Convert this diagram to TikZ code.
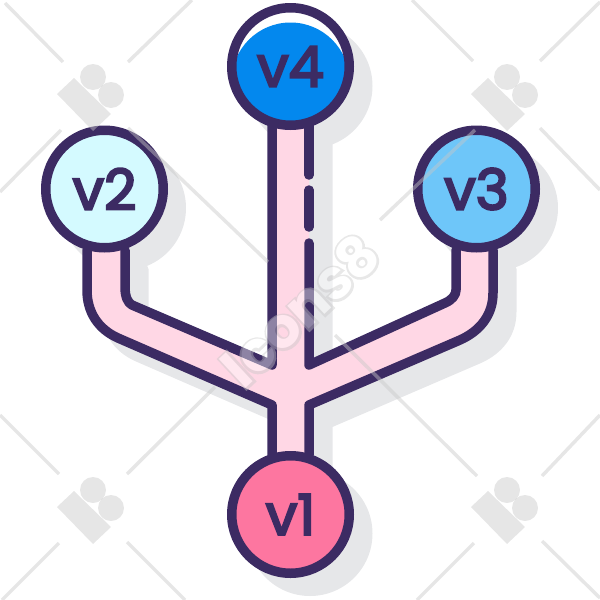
\documentclass[tikz,border=0pt]{standalone}
\usepackage{fontspec}
\setmainfont{Poppins}
\newfontfamily\labelfont[FakeBold=4]{Poppins}
\newfontfamily\markfont[UprightFont=* Bold,FakeBold=8]{Poppins}
\definecolor{ink}{HTML}{3C2B63}
\definecolor{rose}{HTML}{FFD7E5}
\definecolor{ash}{HTML}{E6E7E9}
\definecolor{markgray}{HTML}{C8C8C8}
\newcommand{\pipepath}{(87,250) -- (87,290) .. controls (87,312) and (98,329) .. (118,338) -- (272,405) -- (272,455) -- (309,455) -- (309,405) -- (460,340) .. controls (480,331) and (493,315) .. (493,293) -- (493,250) -- (456,250) -- (456,290) .. controls (456,295) and (452,300) .. (445,303) -- (309,365) -- (309,125) -- (272,125) -- (272,365) -- (132,305) .. controls (128,303) and (125,297) .. (125,287) -- (125,250) -- cycle}
\begin{document}
\begin{tikzpicture}[x=1pt,y=-1pt,
ring/.style={circle,draw=ink,line width=9.5pt,inner sep=0pt,minimum size=117.5pt,text=ink,font=\fontsize{56}{56}\labelfont},
wire/.style={draw=ink,line width=9.5pt,line cap=round,line join=round},
wm/.style={line width=3.5pt,draw=markgray,opacity=.45},
wmblob/.style={fill=markgray,opacity=.45}]
\useasboundingbox (0,0) rectangle (600,600);

\begin{scope}[shift={(19,19)}]
\draw[ash,fill=ash,line width=9pt,line join=round] \pipepath;
\fill[ash] (291,67) circle (62.5);
\fill[ash] (104.5,189) circle (62.5);
\fill[ash] (476.5,189) circle (62.5);
\fill[ash] (291,514.5) circle (62.5);
\end{scope}

\fill[rose] \pipepath;

\coordinate (la) at (87,250);
\coordinate (lb) at (125,250);
\coordinate (ra) at (493,250);
\coordinate (rb) at (456,250);
\coordinate (ma) at (272,125);
\coordinate (mb) at (309,243);
\coordinate (da) at (309,190);
\coordinate (db) at (309,227);
\coordinate (ea) at (309,125);
\coordinate (eb) at (309,175);
\coordinate (ja) at (272,365);
\coordinate (jb) at (309,365);
\coordinate (ka) at (272,405);
\coordinate (kb) at (309,405);
\coordinate (fa) at (272,455);
\coordinate (fb) at (309,455);

\draw[wire] (la) -- (87,290) .. controls (87,312) and (98,329) .. (118,338) -- (ka) -- (fa);
\draw[wire] (ra) -- (493,293) .. controls (493,315) and (480,331) .. (460,340) -- (kb) -- (fb);
\draw[wire] (lb) -- (125,287) .. controls (125,297) and (128,303) .. (132,305) -- (ja) -- (ma);
\draw[wire] (rb) -- (456,290) .. controls (456,295) and (452,300) .. (445,303) -- (jb) -- (mb);
\draw[wire] (da) -- (db);
\draw[wire] (ea) -- (eb);

\node[ring,fill=white,path picture={\fill[fill={rgb,255:red,3;green,136;blue,238}] (path picture bounding box.center) ++(0,15) circle (59);}] at (290.5,66.5) (v4) {v4};
\node[ring,fill={rgb,255:red,212;green,250;blue,255}] at (104.5,189) (v2) {v2};
\node[ring,fill={rgb,255:red,110;green,198;blue,249}] at (476.5,189) (v3) {v3};
\node[ring,fill={rgb,255:red,253;green,118;blue,160}] at (290.5,514.5) (v1) {v1};

\foreach \dx/\dy in {0/0,414/0,0/-413,414/-413} {
\begin{scope}[shift={(\dx,\dy)}]
\fill[wmblob] (57,507) -- (74,491) -- (111,527) -- (93,544) -- cycle;
\fill[wmblob] (93,490) circle (13);
\fill[wmblob] (111,508) circle (13);
\end{scope}
}

\draw[wm] (5,3) -- (63,62);
\draw[wm] (128,62) -- (192,0);
\draw[wm] (61,130) -- (0,192);
\draw[wm] (128,128) -- (268,262);
\draw[wm] (412,0) -- (473,61);
\draw[wm] (540,61) -- (600,2);
\draw[wm] (475,130) -- (380,220);
\draw[wm] (540,128) -- (600,190);
\draw[wm] (0,415) -- (59,474);
\draw[wm] (127,474) -- (215,387);
\draw[wm] (59,543) -- (2,600);
\draw[wm] (127,542) -- (185,600);
\draw[wm] (335,335) -- (477,476);
\draw[wm] (542,476) -- (600,415);
\draw[wm] (474,543) -- (417,600);
\draw[wm] (542,541) -- (600,598);

\begin{scope}[transparency group,opacity=.42]
\node[rotate=43,text=markgray,font=\fontsize{56}{56}\markfont] at (300,310) (markedge) {Icons8};
\node[rotate=43,text=white,font=\fontsize{56}{56}\selectfont\bfseries] at (300,310) (mark) {Icons8};
\end{scope}
\end{tikzpicture}
\end{document}
